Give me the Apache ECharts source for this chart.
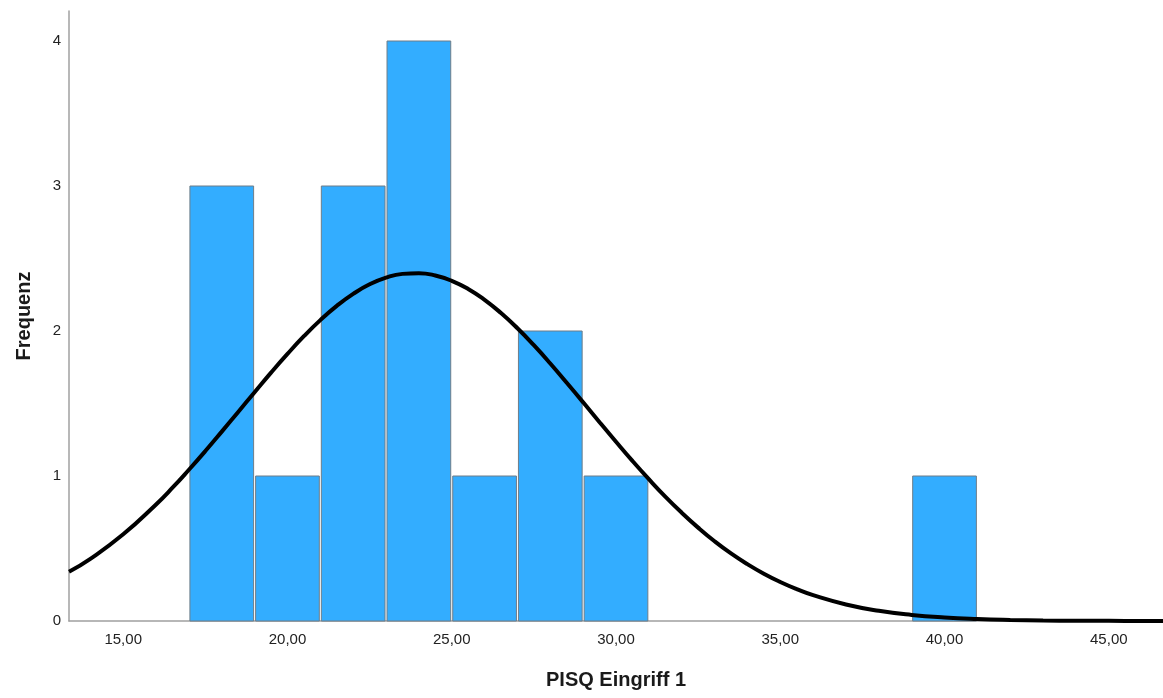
<!DOCTYPE html>
<html>
<head>
<meta charset="utf-8">
<script src="https://cdn.jsdelivr.net/npm/echarts@6/dist/echarts.min.js"></script>
<style>
html,body{margin:0;padding:0;background:#fff;}
#chart{width:1163px;height:698px;}
</style>
</head>
<body>
<div id="chart"></div>
<script>
// Histogram bins (PISQ Eingriff 1)
const binStart = [17, 19, 21, 23, 25, 27, 29, 39];
const binEnd   = [19, 21, 23, 25, 27, 29, 31, 41];
const counts   = [3, 1, 3, 4, 1, 2, 1, 1];

// Normal curve (x, frequency)
const curveX = [13.35, 14, 15, 16, 16.5, 17, 17.5, 18, 18.5, 19, 19.5, 20, 20.5, 21, 21.5, 22, 22.5,
                23, 23.5, 24, 24.5, 25, 25.5, 26, 26.5, 27, 27.5, 28, 28.5, 29, 29.5, 30, 30.5,
                31, 31.5, 32, 32.5, 33, 33.5, 34, 34.5, 35, 35.5, 36, 37, 38, 39, 40, 41, 42, 43,
                44, 45, 46, 46.65];
const curveY = [0.340, 0.429, 0.598, 0.804, 0.919, 1.043, 1.172, 1.306, 1.442, 1.578, 1.713, 1.842,
                1.964, 2.075, 2.173, 2.256, 2.322, 2.368, 2.394, 2.399, 2.383, 2.346, 2.290, 2.215,
                2.124, 2.019, 1.902, 1.776, 1.643, 1.508, 1.371, 1.236, 1.104, 0.978, 0.858, 0.747,
                0.644, 0.550, 0.466, 0.392, 0.326, 0.269, 0.220, 0.178, 0.114, 0.0705, 0.042,
                0.0242, 0.0135, 0.0072, 0.0037, 0.0019, 0.0009, 0.0004, 0.0002];

const xTicks = [15, 20, 25, 30, 35, 40, 45];
const yTicks = [0, 1, 2, 3, 4];

const xTitle = 'PISQ Eingriff 1';
const yTitle = 'Frequenz';

const font = 'Arial, "Liberation Sans", sans-serif';

const barData = binStart.map((s, i) => [s, binEnd[i], counts[i]]);
const lineData = curveX.map((x, i) => [x, curveY[i]]);

const chart = echarts.init(document.getElementById('chart'), null, {renderer: 'canvas'});
chart.setOption({
  animation: false,
  backgroundColor: '#ffffff',
  grid: {left: 69, right: 0, top: 11, bottom: 77, containLabel: false},
  xAxis: {
    type: 'value',
    min: 13.35,
    max: 46.65,
    name: xTitle,
    nameLocation: 'middle',
    nameGap: 49,
    nameTextStyle: {fontFamily: font, fontSize: 20, fontWeight: 'bold', color: '#1a1a1a'},
    axisLine: {show: true, lineStyle: {color: '#a0a0a0', width: 1.5}},
    axisTick: {show: false},
    splitLine: {show: false},
    axisLabel: {
      customValues: xTicks,
      margin: 11,
      fontFamily: font, fontSize: 15, color: '#222',
      formatter: v => v.toFixed(2).replace('.', ',')
    }
  },
  yAxis: {
    type: 'value',
    min: 0,
    max: 4.207,
    name: yTitle,
    nameLocation: 'middle',
    nameGap: 35,
    nameTextStyle: {fontFamily: font, fontSize: 20, fontWeight: 'bold', color: '#1a1a1a'},
    axisLine: {show: true, lineStyle: {color: '#a0a0a0', width: 1.5}},
    axisTick: {show: false},
    splitLine: {show: false},
    axisLabel: {
      customValues: yTicks,
      margin: 8,
      fontFamily: font, fontSize: 15, color: '#222',
      formatter: v => String(v)
    }
  },
  series: [
    {
      type: 'custom',
      data: barData,
      encode: {x: [0, 1], y: 2},
      z: 2,
      renderItem: function (params, api) {
        const p0 = api.coord([api.value(0), api.value(2)]);
        const p1 = api.coord([api.value(1), 0]);
        return {
          type: 'rect',
          shape: {x: p0[0] + 1, y: p0[1], width: p1[0] - p0[0] - 2, height: p1[1] - p0[1]},
          style: {fill: '#33adff', stroke: '#6f7d88', lineWidth: 1}
        };
      }
    },
    {
      type: 'line',
      data: lineData,
      smooth: 0.5,
      symbol: 'none',
      z: 3,
      lineStyle: {color: '#000', width: 4}
    }
  ]
});
</script>
</body>
</html>
